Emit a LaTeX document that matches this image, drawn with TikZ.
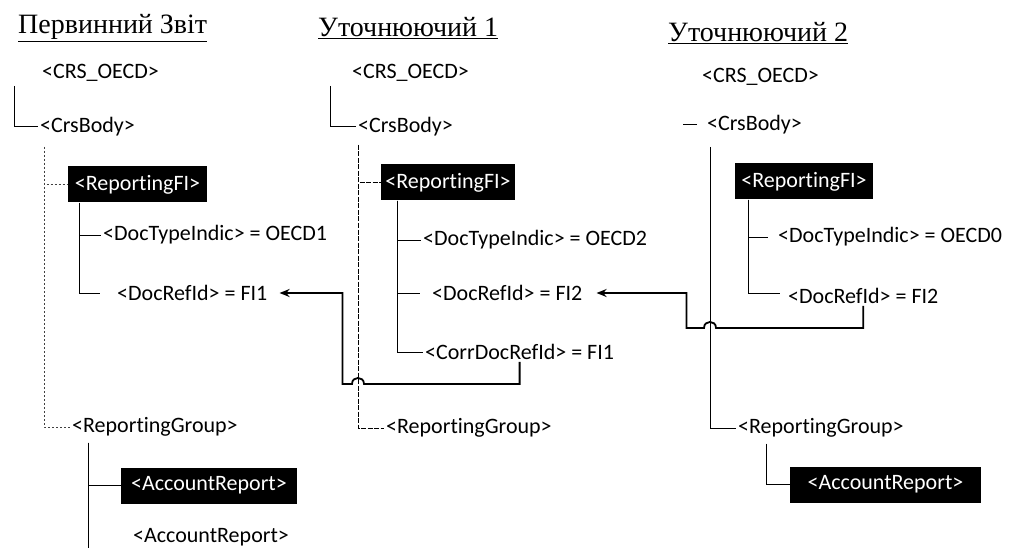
\documentclass[tikz,border=0pt]{standalone}
\usepackage{fontspec}
\usetikzlibrary{calc,arrows.meta}
\newfontfamily\tagfnt{Carlito}
\newfontfamily\ttlfnt{Liberation Serif}
\newcommand\tagfont{\tagfnt\fontsize{22}{26}\selectfont}
\newcommand\ttlfont{\ttlfnt\fontsize{28}{32}\selectfont}
% break the t-i ligature of Carlito
\newcommand\Rep{Report\kern0pt ing}

\tikzset{
    tag/.style={anchor=west, inner sep=2pt, font=\tagfont},
    blk/.style={fill=black, text=white, font=\tagfont, inner sep=2pt, minimum height=36pt},
    ttl/.style={anchor=west, inner sep=0pt, font=\ttlfont},
    tree/.style={line width=1pt},
    spineA/.style={line width=0.9pt, black!75, dash pattern=on 2pt off 2pt},
    spineB/.style={line width=1pt, dash pattern=on 5pt off 1.5pt},
    spineC/.style={line width=1pt},
    ref/.style={line width=1.8pt, -{Stealth[length=10pt,width=8pt]}}
}

\begin{document}
\begin{tikzpicture}[x=1pt, y=-1pt]

        \useasboundingbox (0,0) rectangle (1017,548);

        % Original report
        \node[ttl] (t1) at (18,28) {\underline{Первинний Звіт}};
        \node[tag] (c1root) at (40,73) {<CRS\_OECD>};
        \node[tag] (c1body) at (38,127) {<CrsBody>};
        \coordinate (c1s) at (44,147);
        \node[blk, minimum width=139pt] (c1fi) at (137.5,184.5) {<\Rep FI>};
        \node[tag] (c1dti) at (101,235) {<DocTypeIndic> = OECD1};
        \node[tag] (c1dri) at (115,293) {<DocRefId> = FI1};
        \node[tag] (c1rg) at (70,427) {<\Rep Group>};
        \node[blk, minimum width=176pt] (c1ar) at (209,485.5) {<AccountReport>};
        \node[tag] (c1ar2) at (131,537) {<AccountReport>};
        \coordinate (c1end) at (88,548);

        \draw[tree] (c1root.south west) ++(-26,2) |- (c1body.west);
        \draw[spineA] (c1s) |- (c1fi.west);
        \draw[spineA] (c1s) |- (c1rg.west);
        \draw[tree] (c1fi.south west) ++(12,0) |- (c1dti.west);
        \draw[tree] (c1fi.south west) ++(12,0) |- ($(c1dri.west)+(-15,0)$);
        \draw[tree] (c1rg.south west) ++(18,4) |- (c1ar.west);
        \draw[tree] (c1rg.south west) ++(18,4) -- (c1end);

        % Correction 1
        \node[ttl] (t2) at (318,28) {\underline{Уточнюючий 1}};
        \node[tag] (c2root) at (350,73) {<CRS\_OECD>};
        \node[tag] (c2body) at (356,127) {<CrsBody>};
        \coordinate (c2s) at (358,145);
        \node[blk, minimum width=134pt] (c2fi) at (448,182.5) {<\Rep FI>};
        \node[tag] (c2dti) at (421,240) {<DocTypeIndic> = OECD2};
        \node[tag] (c2dri) at (430,293) {<DocRefId> = FI2};
        \node[tag] (c2cdri) at (423,352) {<CorrDocRefId> = FI1};
        \node[tag] (c2rg) at (384,428) {<\Rep Group>};

        \draw[tree] (c2root.south west) ++(-20,2) |- (c2body.west);
        \draw[spineB] (c2s) |- (c2fi.west);
        \draw[spineB] (c2s) |- (c2rg.west);
        \draw[tree] (c2fi.south west) ++(17,0) |- (c2dti.west);
        \draw[tree] (c2fi.south west) ++(17,0) |- ($(c2dri.west)+(-10,0)$);
        \draw[tree] (c2fi.south west) ++(17,0) |- (c2cdri.west);

        % Correction 2
        \node[ttl] (t3) at (668,33) {\underline{Уточнюючий 2}};
        \node[tag] (c3root) at (700,77) {<CRS\_OECD>};
        \node[tag] (c3body) at (705,125) {<CrsBody>};
        \coordinate (c3s) at (710,147);
        \node[blk, minimum width=138pt] (c3fi) at (804,181.5) {<\Rep FI>};
        \node[tag] (c3dti) at (776,237) {<DocTypeIndic> = OECD0};
        \node[tag] (c3dri) at (786,296) {<DocRefId> = FI2};
        \node[tag] (c3rg) at (736,428) {<\Rep Group>};
        \node[blk, minimum width=191pt] (c3ar) at (885.5,484.5) {<AccountReport>};

        \draw[tree] (c3body.west) ++(-8,0) -- ++(-14,0);
        \draw[spineC] (c3s) |- (c3rg.west);
        \draw[tree] (c3fi.south west) ++(14,0) |- ($(c3dti.west)+(-8,0)$);
        \draw[tree] (c3fi.south west) ++(14,0) |- ($(c3dri.west)+(-6,-3)$);
        \draw[tree] (c3rg.south west) ++(30,4) |- (c3ar.west);

        % References
        \path (c2cdri.south) ++(0,22) coordinate (r1);
        \coordinate (h1) at (c2s |- r1);
        \draw[ref, shorten >=10pt] (c2cdri.south) -- (r1) -- ($(h1)+(6,0)$)
            .. controls ($(h1)+(6,-8)$) and ($(h1)+(-6,-8)$) .. ($(h1)+(-6,0)$)
            -| ($(c1dri.east)+(73,0)$) -- (c1dri.east);

        \path (c3dri.south) ++(0,22) coordinate (r2);
        \coordinate (h2) at (c3s |- r2);
        \draw[ref, shorten >=12pt] (c3dri.south) -- (r2) -- ($(h2)+(6,0)$)
            .. controls ($(h2)+(6,-8)$) and ($(h2)+(-6,-8)$) .. ($(h2)+(-6,0)$)
            -| ($(c2dri.east)+(102,0)$) -- (c2dri.east);

\end{tikzpicture}
\end{document}
